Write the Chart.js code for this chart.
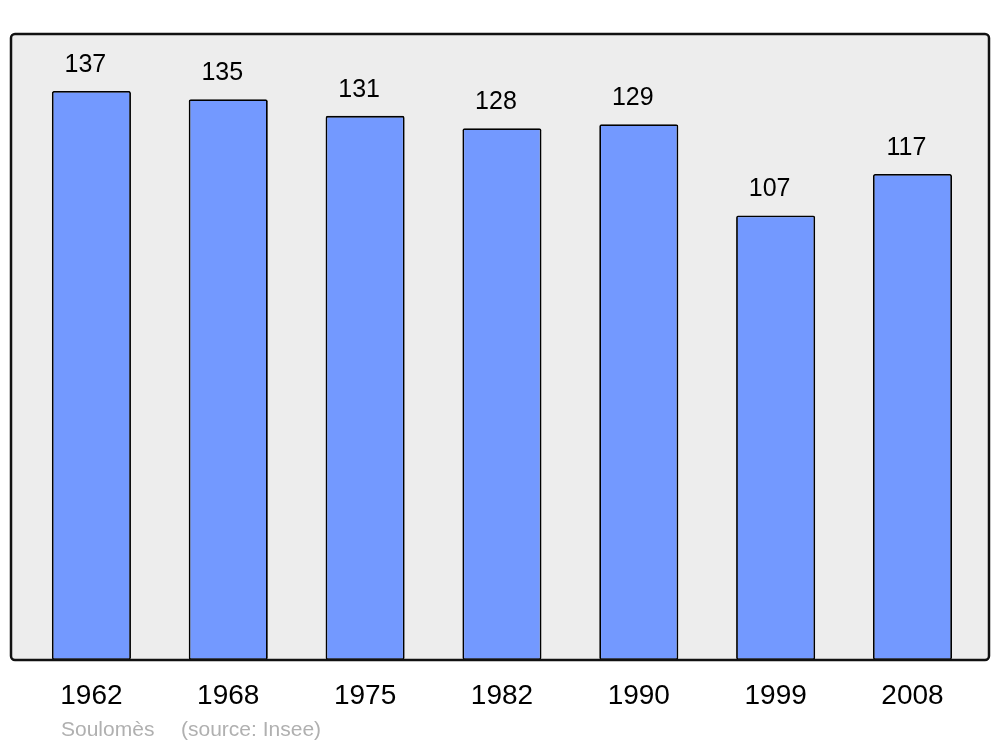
<!DOCTYPE html>
<html>
<head>
<meta charset="utf-8">
<script src="https://cdn.jsdelivr.net/npm/chart.js@4"></script>
<style>
  html, body { margin: 0; padding: 0; background: #fff; }
  #wrap { width: 1000px; height: 747px; }
</style>
</head>
<body>
<div id="wrap"><canvas id="popChart" width="1000" height="747"></canvas></div>
<script>
const years = ["1962", "1968", "1975", "1982", "1990", "1999", "2008"];
const population = [137, 135, 131, 128, 129, 107, 117];
const yMax = 150.7;
const townName = "Soulomès";
const sourceText = "(source: Insee)";

// grey frame behind the bars, border stroked on top
const framePlugin = {
  id: 'frame',
  beforeDatasetsDraw(chart) {
    const { ctx, chartArea } = chart;
    ctx.save();
    ctx.fillStyle = '#ededed';
    ctx.beginPath();
    ctx.roundRect(11, chartArea.top, 978, chartArea.bottom - chartArea.top, 4);
    ctx.fill();
    ctx.restore();
  },
  afterDatasetsDraw(chart) {
    const { ctx, chartArea } = chart;
    ctx.save();
    ctx.strokeStyle = '#111';
    ctx.lineWidth = 2.5;
    ctx.beginPath();
    ctx.roundRect(11, chartArea.top, 978, chartArea.bottom - chartArea.top, 4);
    ctx.stroke();

    // values above bars
    ctx.fillStyle = '#000';
    ctx.font = '25px "Liberation Sans", Arial, sans-serif';
    ctx.textAlign = 'center';
    ctx.textBaseline = 'middle';
    chart.getDatasetMeta(0).data.forEach((bar, i) => {
      ctx.fillText(String(population[i]), bar.x - 6, bar.y - 26);
    });

    ctx.fillStyle = '#b0b0b0';
    ctx.font = '21px "Liberation Sans", Arial, sans-serif';
    ctx.textAlign = 'left';
    ctx.fillText(townName, 61, 730);
    ctx.fillText(sourceText, 181, 730);
    ctx.restore();
  }
};

new Chart(document.getElementById('popChart'), {
  type: 'bar',
  data: {
    labels: years,
    datasets: [{
      data: population,
      backgroundColor: '#7399ff',
      borderColor: '#000',
      borderWidth: 1.8,
      borderRadius: 2,
      borderSkipped: false,
      categoryPercentage: 1,
      barPercentage: 0.578
    }]
  },
  options: {
    responsive: false,
    animation: false,
    layout: { padding: { top: 34, left: 23, right: 19.1, bottom: 0 } },
    plugins: { legend: { display: false }, tooltip: { enabled: false } },
    scales: {
      x: {
        grid: { display: false },
        border: { display: false },
        ticks: {
          color: '#000',
          padding: 11,
          font: { family: '"Liberation Sans", Arial, sans-serif', size: 28 }
        },
        afterFit(scale) { scale.height = 87; }
      },
      y: {
        display: false,
        min: 0,
        max: yMax
      }
    }
  },
  plugins: [framePlugin]
});
</script>
</body>
</html>
